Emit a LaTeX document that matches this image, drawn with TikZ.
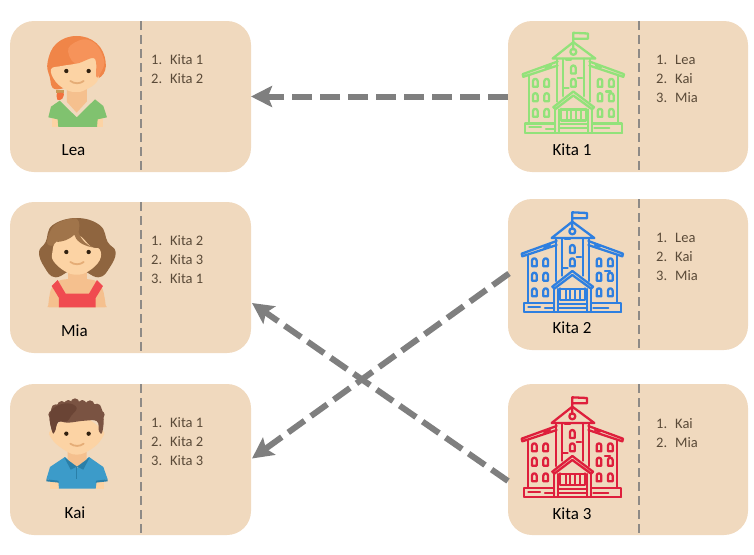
\documentclass[tikz,border=0pt]{standalone}
\usepackage{fontspec}
\setmainfont{Carlito}
\usetikzlibrary{arrows.meta,calc}
\definecolor{boxfill}{HTML}{F0D9BE}
\definecolor{divgray}{HTML}{8E8A86}
\definecolor{arrowgray}{HTML}{7F7F7F}
\definecolor{listbrown}{HTML}{5A4A38}
\definecolor{skin}{HTML}{FCD3A4}
\definecolor{skindark}{HTML}{F5C08E}
\definecolor{leahair}{HTML}{F08548}
\definecolor{leahairb}{HTML}{F6935A}
\definecolor{leagreen}{HTML}{80C26F}
\definecolor{miahair}{HTML}{8F653F}
\definecolor{miahairb}{HTML}{A0744A}
\definecolor{miared}{HTML}{F04B50}
\definecolor{kaihair}{HTML}{6A4435}
\definecolor{kaihairb}{HTML}{7A5342}
\definecolor{kaiblue}{HTML}{3C9BC9}
\definecolor{kaibluedark}{HTML}{2A7FA8}
\definecolor{schoolgreen}{HTML}{92E27A}
\definecolor{schoolblue}{HTML}{2E7FE0}
\definecolor{schoolred}{HTML}{DE1F3C}
\tikzset{
  card/.style={fill=boxfill,draw=none,rounded corners=24pt,minimum width=241pt,minimum height=151pt,inner sep=0pt,outer sep=0pt},
  divider/.style={draw=divgray,line width=2pt,dash pattern=on 9pt off 5pt},
  flow/.style={draw=arrowgray,line width=6pt,dash pattern=on 20pt off 8pt,-{Stealth[length=21pt,width=21pt,inset=4pt]}},
  namelabel/.style={font=\fontsize{17}{19}\selectfont,text=black,inner sep=0pt},
  listtext/.style={font=\fontsize{14.5}{19}\selectfont,text=listbrown,align=left,inner sep=0pt,anchor=north west},
  icon/.style={shift={(#1)},x=0.3333pt,y=-0.3333pt},
}
\newcommand{\itm}[2]{\makebox[19pt][l]{#1.}#2}
\newcommand{\win}[2]{\draw (#1-7,#2+12) -- (#1-7,#2-5) arc[start angle=180,end angle=360,radius=7] -- (#1+7,#2+12) -- cycle;}
\newcommand{\schoolicon}[3]{%
\begin{scope}[icon={#1,#2},draw=#3,line width=2.3pt,line join=round,line cap=round]
  % flag
  \draw (172,72) -- (172,22) -- (216,24) -- (216,40) -- (172,40);
  % pediment
  \draw (110,99) -- (172,50) -- (238,99) -- cycle;
  \draw (172,79) circle[radius=9];
  % wing roofs
  \draw (125,108) -- (20,146) -- (22,154) -- (125,120);
  \draw (220,108) -- (324,146) -- (322,154) -- (220,120);
  % walls
  \draw (38,152) -- (38,292);
  \draw (306,152) -- (306,292);
  % columns
  \draw (124,100) -- (124,228); \draw (141,100) -- (141,212);
  \draw (205,100) -- (205,212); \draw (221,100) -- (221,228);
  % centre windows
  \win{172}{132} \win{172}{172}
  % wing windows
  \foreach \wx in {58,92,252,286} \foreach \wy in {172,215,262} {\win{\wx}{\wy}}
  % small marks
  \draw (145,188) -- (158,188); \draw (185,157) -- (198,157); \draw (150,102) -- (165,102);
  \draw (240,120) -- (255,125); \draw (88,127) -- (105,120); \draw (270,198) -- (285,198);
  % porch
  \draw (112,245) -- (172,198) -- (234,245) -- (228,251) -- (172,210) -- (118,251) -- cycle;
  \draw (135,250) -- (135,285) -- (210,285) -- (210,250);
  \draw (135,252) -- (210,252);
  \foreach \bx in {152,166,180,195} {\draw (\bx,256) -- (\bx,284);}
  \draw (118,252) -- (118,320); \draw (130,252) -- (130,320);
  \draw (216,252) -- (216,320); \draw (228,252) -- (228,320);
  % steps and base
  \draw (130,296) -- (216,296); \draw (130,308) -- (216,308);
  \draw (28,294) rectangle (118,322);
  \draw (228,294) rectangle (318,322);
  \draw (28,322) -- (318,322);
  \draw (40,305) -- (75,305); \draw (90,310) -- (118,310); \draw (235,308) -- (280,308);
\end{scope}}
\begin{document}
\begin{tikzpicture}[x=1pt,y=-1pt]
\useasboundingbox (0,0) rectangle (754,554);
% cards
\node[card] (lea) at (130.5,96.5) {};
\node[card] (mia) at (130.5,277.5) {};
\node[card] (kai) at (130.5,459.5) {};
\node[card,minimum width=240pt] (kitaA) at (628,96.5) {};
\node[card,minimum width=240pt] (kitaB) at (628,274.5) {};
\node[card,minimum width=240pt] (kitaC) at (628,459.5) {};
% dividers
\foreach \c in {lea,mia,kai} {\draw[divider] ($(\c.north west)+(131,0)$) -- ($(\c.south west)+(131,0)$);}
\foreach \c in {kitaA,kitaB,kitaC} {\draw[divider] ($(\c.north west)+(131,0)$) -- ($(\c.south west)+(131,0)$);}
% names
\node[namelabel] (nLea) at (73.5,150) {Lea};
\node[namelabel] (nMia) at (74.5,331) {Mia};
\node[namelabel] (nKai) at (75,513) {Kai};
\node[namelabel] (nKa) at (572,150) {Kita 1};
\node[namelabel] (nKb) at (572,328) {Kita 2};
\node[namelabel] (nKc) at (572,514) {Kita 3};
% lists
\node[listtext] (lLea) at (151,54.5) {\itm{1}{Kita 1}\\\itm{2}{Kita 2}};
\node[listtext] (lMia) at (151,235.5) {\itm{1}{Kita 2}\\\itm{2}{Kita 3}\\\itm{3}{Kita 1}};
\node[listtext] (lKai) at (151,417.5) {\itm{1}{Kita 1}\\\itm{2}{Kita 2}\\\itm{3}{Kita 3}};
\node[listtext] (lKa) at (656,54.5) {\itm{1}{Lea}\\\itm{2}{Kai}\\\itm{3}{Mia}};
\node[listtext] (lKb) at (656,232.5) {\itm{1}{Lea}\\\itm{2}{Kai}\\\itm{3}{Mia}};
\node[listtext] (lKc) at (656,418.5) {\itm{1}{Kai}\\\itm{2}{Mia}};
% connectors
\coordinate (miaIn) at ($(mia.east)+(1,25.5)$);
\coordinate (kitaCOut) at ($(kitaC.west)+(0,21.5)$);
\coordinate (kitaBOut) at ($(kitaB.west)+(1,-1)$);
\coordinate (kaiIn) at ($(kai.east)+(1,-1)$);
\draw[flow] (kitaA.west) -- (lea.east);
\draw[flow] (kitaBOut) -- (kaiIn);
\draw[flow] (kitaCOut) -- (miaIn);
% schools
\schoolicon{516}{25.5}{schoolgreen}
\schoolicon{515}{205}{schoolblue}
\schoolicon{515}{390}{schoolred}
% Lea
\begin{scope}[icon={35,30}]
  \fill[skin] (50,262) rectangle (72,292);
  \fill[skin] (182,262) rectangle (205,292);
  \fill[leagreen] (40,262) -- (48,230) -- (74,212) -- (125,262) -- (180,208) -- (205,228) -- (216,262) -- (188,268) -- (186,291) -- (70,291) -- (68,268) -- cycle;
  \fill[skindark] (96,170) -- (156,170) -- (156,214) -- (125,248) -- (96,216) -- cycle;
  \fill[leahair] plot[smooth cycle,tension=.7] coordinates {(64,178) (44,140) (38,95) (65,40) (125,18) (185,40) (212,95) (198,140) (150,150)};
  \fill[leahair!65!leagreen] (64,180) rectangle (86,190);
  \fill[leahair!85!red] plot[smooth cycle] coordinates {(66,190) (86,190) (82,206) (68,210)};
  \fill[skin] plot[smooth cycle,tension=.7] coordinates {(48,118) (80,108) (125,100) (178,80) (192,115) (186,155) (150,180) (125,186) (95,180) (62,155)};
  \fill[leahairb] plot[smooth cycle,tension=.6] coordinates {(100,55) (145,28) (185,45) (208,95) (196,130) (184,140) (178,85) (120,100)};
  \fill[black!75!brown] (94,123) circle[radius=6.5];
  \fill[black!75!brown] (161,123) circle[radius=6.5];
  \draw[skindark!70!brown,line width=1.8pt,line cap=round] (106,153) .. controls (118,162) and (135,162) .. (146,153);
\end{scope}
% Mia
\begin{scope}[icon={35,212}]
  \fill[skindark] plot[smooth cycle,tension=.4] coordinates {(40,280) (48,232) (75,205) (125,200) (178,205) (203,232) (212,280) (205,286) (48,286)};
  \fill[miahair] plot[smooth cycle,tension=.7] coordinates {(62,196) (28,165) (12,120) (32,90) (52,40) (125,18) (195,40) (218,90) (242,120) (225,165) (190,196) (125,170)};
  \fill[miahairb] plot[smooth cycle,tension=.6] coordinates {(125,20) (60,38) (36,90) (60,100) (125,70) };
  \fill[skindark] (98,160) rectangle (156,230);
  \fill[skin] plot[smooth cycle,tension=.7] coordinates {(52,122) (66,88) (125,68) (168,104) (194,112) (194,145) (160,178) (125,188) (90,178) (56,148)};
  \fill[miahairb] (125,20) .. controls (122,50) and (135,90) .. (172,106) .. controls (140,100) and (122,85) .. (118,68) .. controls (100,85) and (85,88) .. (66,90) .. controls (75,60) and (100,30) .. (125,20) -- cycle;
  \fill[miared] (50,222) -- (68,204) -- (92,245) -- (162,245) -- (186,204) -- (204,222) -- (182,258) -- (182,286) -- (72,286) -- (72,258) -- cycle;
  \fill[black!75!brown] (94,120) circle[radius=6.5];
  \fill[black!75!brown] (161,120) circle[radius=6.5];
  \draw[skindark!70!brown,line width=1.8pt,line cap=round] (106,150) .. controls (118,159) and (135,159) .. (146,150);
\end{scope}
% Kai
\begin{scope}[icon={35,392}]
  \fill[skin] (46,265) rectangle (72,290);
  \fill[skin] (180,265) rectangle (208,290);
  \fill[kaiblue] (34,262) -- (45,225) -- (90,195) -- (125,225) -- (162,195) -- (205,225) -- (218,262) -- (185,268) -- (182,290) -- (72,290) -- (70,268) -- cycle;
  \fill[kaibluedark] (34,262) -- (70,266) -- (72,272) -- (34,268) -- cycle;
  \fill[kaibluedark] (218,262) -- (184,266) -- (182,272) -- (218,268) -- cycle;
  \fill[skindark] (98,165) -- (155,165) -- (155,205) -- (125,228) -- (98,205) -- cycle;
  \fill[kaibluedark] (88,196) -- (107,233) -- (126,224) -- cycle;
  \fill[kaibluedark] (164,196) -- (145,233) -- (126,224) -- cycle;
  \draw[kaibluedark,line width=1pt] (126,224) -- (126,262);
  \fill[skin] plot[smooth cycle,tension=.7] coordinates {(50,112) (125,70) (200,112) (200,140) (168,172) (125,188) (85,172) (50,140)};
  \fill[kaihairb] plot[smooth cycle,tension=.7] coordinates {(52,120) (44,70) (65,38) (125,30) (185,38) (205,68) (202,120) (192,118) (186,88) (150,86) (100,92) (70,90) (60,118)};
  \foreach \cx/\cy/\cr in {52/68/12,62/50/13,80/40/13,100/36/12,120/32/13,142/36/12,165/38/13,186/48/13,198/68/11}{\fill[kaihairb] (\cx,\cy) circle[radius=\cr];}
  \fill[kaihair] plot[smooth cycle,tension=.7] coordinates {(52,118) (44,70) (62,44) (100,34) (125,48) (108,72) (96,88) (70,90) (60,116)};
  \fill[black!75!brown] (94,125) circle[radius=6.5];
  \fill[black!75!brown] (161,125) circle[radius=6.5];
  \draw[skindark!70!brown,line width=1.8pt,line cap=round] (106,155) .. controls (118,164) and (135,164) .. (146,155);
\end{scope}
\end{tikzpicture}
\end{document}
